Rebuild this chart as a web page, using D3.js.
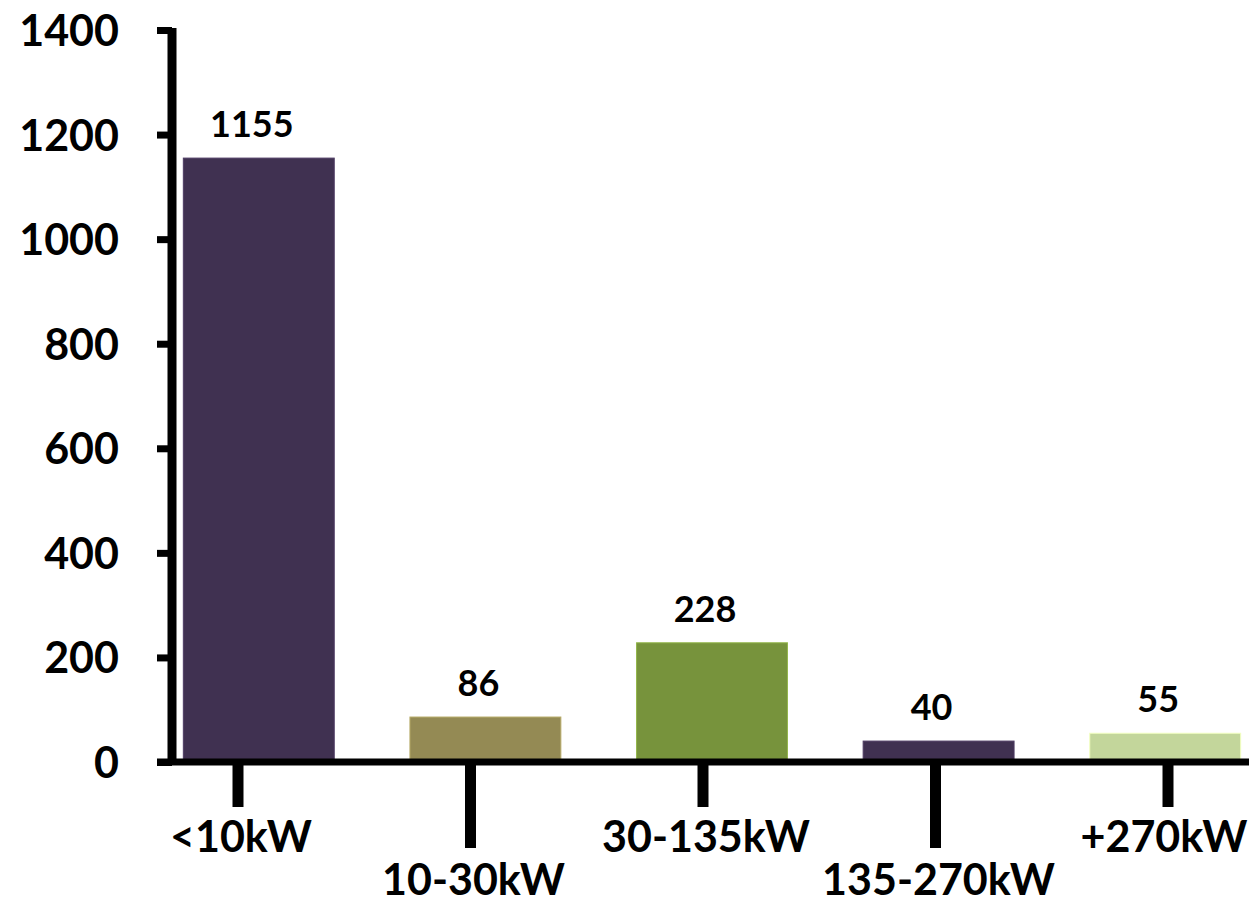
<!DOCTYPE html>
<html>
<head>
<meta charset="utf-8">
<script src="https://cdn.jsdelivr.net/npm/d3@7"></script>
<style>
  html, body { margin: 0; padding: 0; background: #fff; }
  svg { display: block; }
  text { font-family: Lato, "Open Sans", sans-serif; font-weight: 700; fill: #000; }
</style>
</head>
<body>
<svg id="chart" width="1249" height="904"></svg>
<script>
// Installations by power class
const categories = ["<10kW", "10-30kW", "30-135kW", "135-270kW", "+270kW"];
const values = [1155, 86, 228, 40, 55];
const barColors = ["#403151", "#948A54", "#77933C", "#403151", "#C3D69B"];
const yTicks = [0, 200, 400, 600, 800, 1000, 1200, 1400];

const svg = d3.select("#chart");

const y = d3.scaleLinear().domain([0, 1400]).range([762, 30]);

// bars sit on a band scale; category ticks/labels on their own point scale
const x = d3.scaleBand()
  .domain(categories)
  .range([172, 1252])
  .paddingInner(0.334)
  .paddingOuter(0.05);

const xTick = d3.scalePoint()
  .domain(categories)
  .range([238, 1168]);

// bars
svg.append("g")
  .selectAll("rect")
  .data(categories)
  .join("rect")
  .attr("x", d => x(d))
  .attr("width", x.bandwidth())
  .attr("y", (d, i) => y(values[i]))
  .attr("height", (d, i) => y(0) - y(values[i]))
  .attr("fill", (d, i) => barColors[i])
  .attr("stroke", (d, i) => d3.color(barColors[i]).brighter(0.6))
  .attr("stroke-width", 1);

// value labels
svg.append("g")
  .selectAll("text")
  .data(categories)
  .join("text")
  .attr("x", d => x(d) + x.bandwidth() / 2 - 7)
  .attr("y", (d, i) => y(values[i]) - 21)
  .attr("text-anchor", "middle")
  .style("font-size", "36px")
  .text((d, i) => values[i]);

// y axis
const yAxis = svg.append("g")
  .attr("transform", "translate(172,0)")
  .call(d3.axisLeft(y).tickValues(yTicks).tickSize(15).tickPadding(38).tickFormat(d3.format("d")));
yAxis.select(".domain").remove();
yAxis.selectAll(".tick line").attr("stroke", "#000").attr("stroke-width", 7);
yAxis.selectAll(".tick text")
  .style("font-size", "43px")
  .attr("dy", "0.36em");
yAxis.append("line")
  .attr("x1", 0).attr("x2", 0)
  .attr("y1", y(1400) - 2).attr("y2", y(0))
  .attr("stroke", "#000").attr("stroke-width", 9);

// x axis baseline
svg.append("line")
  .attr("x1", 157).attr("x2", 1249)
  .attr("y1", y(0)).attr("y2", y(0))
  .attr("stroke", "#000").attr("stroke-width", 7);

// staggered category ticks and labels
const xg = svg.append("g");
xg.selectAll("line")
  .data(categories)
  .join("line")
  .attr("x1", d => xTick(d)).attr("x2", d => xTick(d))
  .attr("y1", y(0))
  .attr("y2", (d, i) => i % 2 === 0 ? 807 : 848)
  .attr("stroke", "#000")
  .attr("stroke-width", 11);
xg.selectAll("text")
  .data(categories)
  .join("text")
  .attr("x", (d, i) => xTick(d) + (i === categories.length - 1 ? -4 : 3))
  .attr("y", (d, i) => i % 2 === 0 ? 852 : 895)
  .attr("text-anchor", "middle")
  .style("font-size", "43px")
  .text(d => d);
</script>
</body>
</html>
